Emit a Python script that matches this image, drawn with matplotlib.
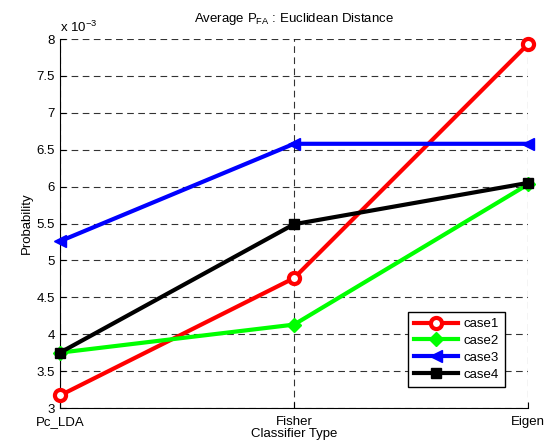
import matplotlib
matplotlib.use("Agg")
import matplotlib.pyplot as plt

plt.rcParams['font.family'] = ['Liberation Sans', 'DejaVu Sans']

categories = ['Pc_LDA', 'Fisher', 'Eigen']
case1 = [3.17, 4.76, 7.93]
case2 = [3.75, 4.13, 6.03]
case3 = [5.26, 6.58, 6.58]
case4 = [3.75, 5.49, 6.05]
yticks = [3, 3.5, 4, 4.5, 5, 5.5, 6, 6.5, 7, 7.5, 8]

fs = 9.5
fig = plt.figure(figsize=(5.55, 4.48), dpi=100)
ax = fig.add_axes([60/555, 1-408/448, (528-60)/555, (408-39)/448])
x = list(range(len(categories)))
lw = 3
ax.plot(x, case1, color='#ff0000', lw=lw, marker='o', ms=8, mfc='white', mew=3, label='case1', clip_on=False, zorder=5)
ax.plot(x, case2, color='#00ff00', lw=lw, marker='D', ms=7, mfc='#00ff00', label='case2', clip_on=False, zorder=5)
ax.plot(x, case3, color='#0000ff', lw=lw, marker='<', ms=9, mfc='#0000ff', label='case3', clip_on=False, zorder=5)
ax.plot(x, case4, color='black', lw=lw, marker='s', ms=7, mfc='black', label='case4', clip_on=False, zorder=5)

ax.set_xlim(0, 2)
ax.set_ylim(3, 8)
ax.set_xticks(x)
ax.set_xticklabels(categories)
ax.set_yticks(yticks)
ax.set_yticklabels([f'{v:g}' for v in yticks])
ax.tick_params(labelsize=fs, direction='in', length=4, colors='black')
ax.tick_params(axis='x', pad=6)
ax.grid(True, color='black', linestyle=(0, (6, 4)), lw=0.8, alpha=0.8)
ax.spines['top'].set_visible(False)
ax.spines['right'].set_visible(False)
ax.set_xlabel('Classifier Type', fontsize=fs, labelpad=0)
ax.set_ylabel('Probability', fontsize=fs, labelpad=3)
ax.set_title('Average P$_{\\mathregular{FA}}$ : Euclidean Distance', fontsize=fs, pad=12)
ax.text(0.0, 1.01, 'x 10$^{\\mathregular{-3}}$', transform=ax.transAxes, fontsize=fs, va='bottom', ha='left')
leg = ax.legend(loc='lower right', bbox_to_anchor=(0.965, 0.04), fontsize=fs, fancybox=False,
                edgecolor='black', framealpha=1, handlelength=3.4, borderpad=0.45, labelspacing=0.35,
                handletextpad=0.4)
leg.get_frame().set_linewidth(1.0)
fig.savefig('out.png', dpi=100)
